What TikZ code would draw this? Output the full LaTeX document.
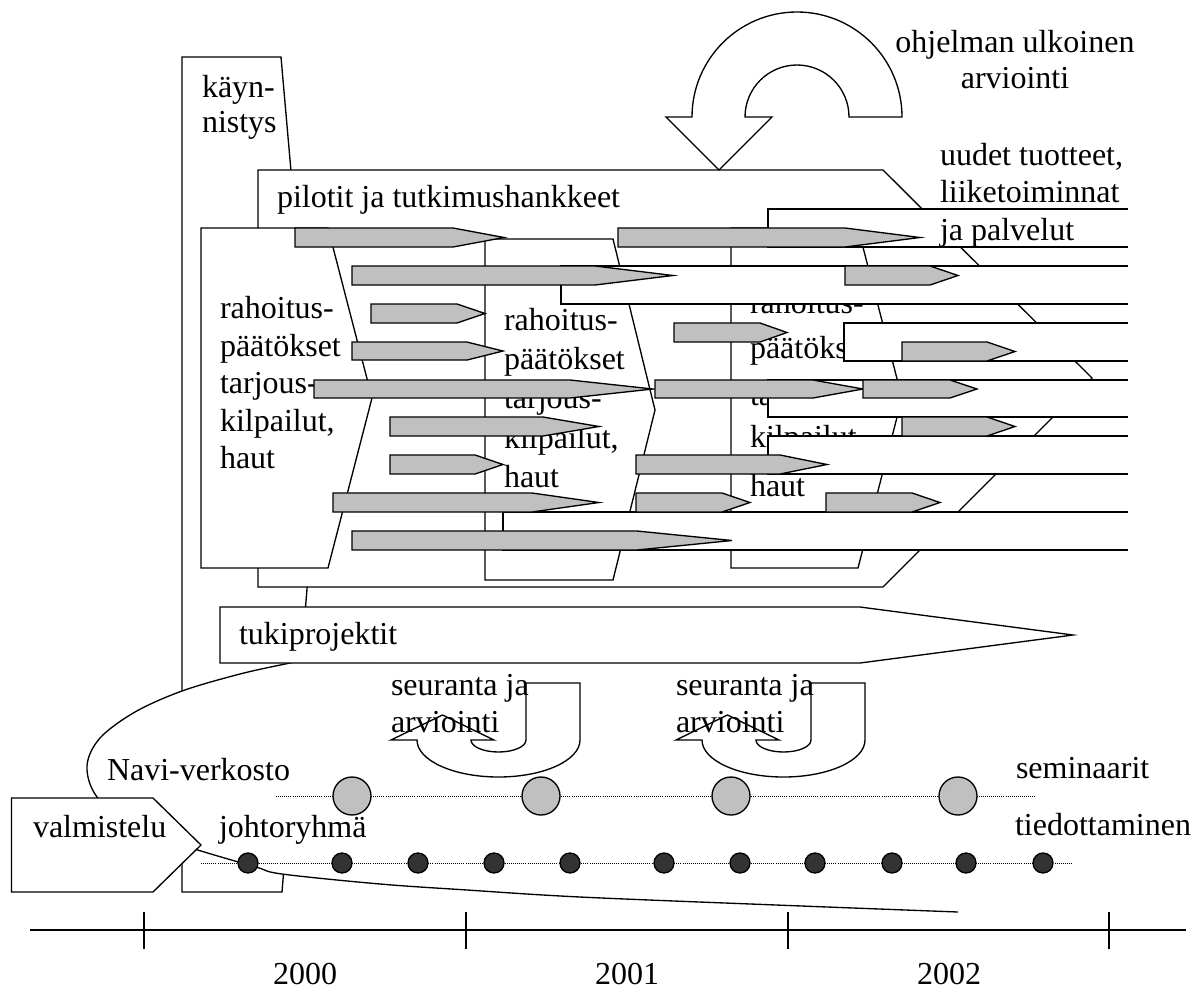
\documentclass[tikz,border=0pt]{standalone}
\usepackage{fontspec}
\setmainfont{Liberation Serif}
\definecolor{barGray}{HTML}{C0C0C0}
\definecolor{dotDark}{HTML}{333333}
% grey pentagon arrow: x-start, x-shoulder, x-tip, y-top, y-bottom
\newcommand\barrow[5]{%
  \draw[bar] (#1,#4) -- (#2,#4) -- (#3,{(#4+#5)/2}) -- (#2,#5) -- (#1,#5) -- cycle;}
% white strip running off the right edge: x-left, y-top, y-bottom
\newcommand\strip[3]{%
  \fill[white] (#1,#2) rectangle (1128,#3);
  \draw[edge] (1128,#2) -- (#1,#2) -- (#1,#3) -- (1128,#3);}
\begin{document}
\begin{tikzpicture}[x=0.75pt,y=-0.75pt,
  edge/.style={draw=black, line width=1pt, line join=miter},
  panel/.style={edge, fill=white},
  bar/.style={edge, fill=barGray},
  semdot/.style={edge, fill=barGray},
  smalldot/.style={edge, fill=dotDark},
  dotline/.style={densely dotted, line width=0.55pt},
  every node/.style={inner sep=0pt, outer sep=0pt, font=\fontsize{24}{29}\selectfont},
  txt/.style={anchor=base west},
  ctxt/.style={anchor=base}]
\useasboundingbox (0,0) rectangle (1195,992);

% start-up phase
\draw[panel] (182,57) -- (281,57) -- (317,468) -- (282,892) -- (182,892) -- cycle;
\node[txt] (kay1) at (202,97) {käyn-};
\node[txt] (kay2) at (202,132) {nistys};

% pilots and research projects
\draw[panel] (258,170) -- (883,170) -- (1092,378) -- (883,587) -- (258,587) -- cycle;
\node[txt] (pil) at (277,207) {pilotit ja tutkimushankkeet};

% three funding rounds
\draw[panel] (201,228) -- (328,228) -- (372,398) -- (328,568) -- (201,568) -- cycle;
\node[txt] (ra1) at (220,318) {rahoitus-};
\node[txt] (rb1) at (220,356) {päätökset};
\node[txt] (rc1) at (220,393) {tarjous-};
\node[txt] (rd1) at (220,431) {kilpailut,};
\node[txt] (re1) at (220,468) {haut};

\draw[panel] (485,239) -- (613,239) -- (655,410) -- (613,580) -- (485,580) -- cycle;
\node[txt] (ra2) at (504,330) {rahoitus-};
\node[txt] (rb2) at (504,369) {päätökset};
\node[txt] (rc2) at (504,408) {tarjous-};
\node[txt] (rd2) at (504,448) {kilpailut,};
\node[txt] (re2) at (504,487) {haut};

\draw[panel] (731,228) -- (858,228) -- (902,398) -- (858,568) -- (731,568) -- cycle;
\node[txt] (ra3) at (750,313) {rahoitus-};
\node[txt] (rb3) at (750,358) {päätökset};
\node[txt] (rc3) at (750,405) {tarjous-};
\node[txt] (rd3) at (750,447) {kilpailut,};
\node[txt] (re3) at (750,496) {haut};

% products, businesses and services
\strip{768}{209}{247}
\strip{561}{266}{304}
\strip{844}{323}{361}
\strip{768}{380}{417}
\strip{768}{436}{474}
\strip{503}{512}{550}

% projects
\barrow{295}{453}{504}{228}{247}
\barrow{352}{595}{673}{266}{285}
\barrow{371}{457}{485}{304}{323}
\barrow{352}{467}{503}{342}{360}
\barrow{314}{570}{653}{380}{398}
\barrow{390}{543}{599}{417}{436}
\barrow{390}{475}{503}{455}{474}
\barrow{333}{532}{599}{493}{512}
\barrow{352}{637}{732}{531}{550}
\barrow{618}{845}{920}{228}{247}
\barrow{845}{930}{958}{266}{285}
\barrow{674}{760}{787}{323}{342}
\barrow{655}{813}{863}{380}{398}
\barrow{863}{950}{977}{380}{398}
\barrow{902}{987}{1015}{342}{361}
\barrow{902}{987}{1015}{417}{436}
\barrow{636}{780}{827}{455}{474}
\barrow{636}{722}{750}{493}{512}
\barrow{826}{912}{940}{493}{512}

\node[txt] (ut1) at (940,165) {uudet tuotteet,};
\node[txt] (ut2) at (940,202) {liiketoiminnat};
\node[txt] (ut3) at (940,240) {ja palvelut};

% external evaluation of the programme
\draw[panel] (849,117) -- (902,117) arc[start angle=0, end angle=180, radius=78.75pt]
  -- (666,117) -- (719,170) -- (772,117) -- (745,117)
  arc[start angle=180, end angle=0, radius=39pt] -- cycle;
\node[ctxt] (oh1) at (1015,52) {ohjelman ulkoinen};
\node[ctxt] (oh2) at (1015,88) {arviointi};

% Navi network
\path[panel] plot[smooth, tension=0.55] coordinates {(345,652) (290,663) (240,674)
  (182,691) (135,712) (100,738) (87,766) (97,797) (135,830) (201,851) (256,867)
  (282,874) (380,884) (467,890) (580,897) (776,905) (958,912)};
\node[txt] (navi) at (107,780) {Navi-verkosto};

% support projects
\draw[panel] (220,607) -- (860,607) -- (1073,635) -- (860,663) -- (220,663) -- cycle;
\node[txt] (tuki) at (239,644) {tukiprojektit};

% follow-up and evaluation loops
\foreach \dx/\nm in {0/a,285/b}{
  \begin{scope}[xshift=\dx*0.75pt]
  \draw[panel] (526,683) -- (580,683) -- (580,740)
    arc[start angle=0, end angle=-180, x radius=61.125pt, y radius=27.75pt]
    -- (391,740) -- (442.5,715) -- (494,740) -- (471,740)
    arc[start angle=180, end angle=360, x radius=20.625pt, y radius=9pt] -- cycle;
  \node[txt] (seu\nm) at (391,695) {seuranta ja};
  \node[txt] (arv\nm) at (391,732) {arviointi};
  \end{scope}}

% preparation
\draw[panel] (11.5,798) -- (153,798) -- (201,845) -- (153,892) -- (11.5,892) -- cycle;
\node[txt] (valm) at (33,837) {valmistelu};

% seminars
\node[txt] (sem) at (1016,778) {seminaarit};
\draw[dotline] (276,796) -- (1035,796);
\foreach \x in {352,541,731,958}
  \draw[semdot] (\x,796) circle[radius=14.25pt];

% steering group and communication
\node[txt] (joht) at (219,837) {johtoryhmä};
\node[txt] (tied) at (1015,835) {tiedottaminen};
\draw[dotline] (201,863) -- (1072,863);
\foreach \x in {248,342,418,494,570,664,740,815,892,966,1043}
  \draw[smalldot] (\x,863) circle[radius=7.5pt];

% time axis
\draw[edge] (30,930) -- (1186,930);
\foreach \x in {144,466,788,1109}
  \draw[edge] (\x,912) -- (\x,949);
\node[ctxt] (y0) at (305,984) {2000};
\node[ctxt] (y1) at (627,984) {2001};
\node[ctxt] (y2) at (949,984) {2002};
\end{tikzpicture}
\end{document}
